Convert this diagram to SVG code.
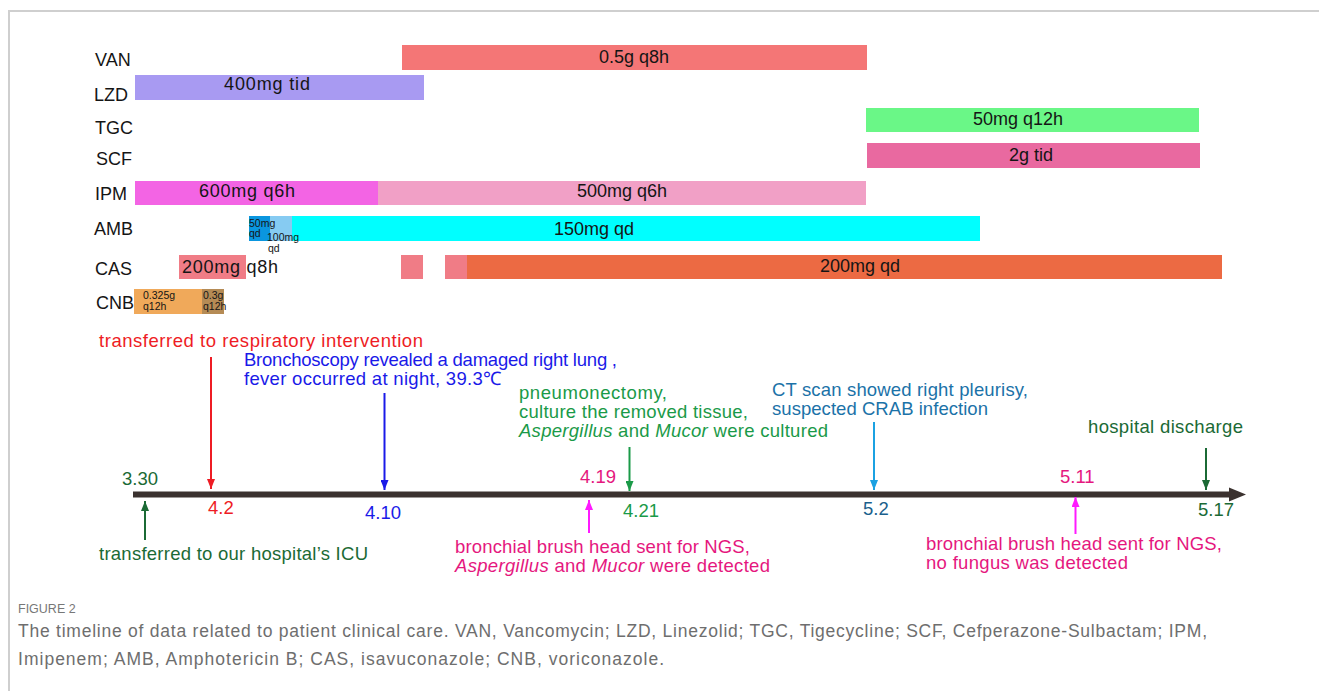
<svg xmlns="http://www.w3.org/2000/svg" width="1319" height="691" viewBox="0 0 1319 691">
<style>
text{font-family:"Liberation Sans",Arial,sans-serif}
.lbl{font-size:18px;fill:#151515}
.bt{font-size:18px;fill:#151515}
.sm{font-size:10.5px;fill:#151515}
.ev{font-size:18.5px}
.it{font-style:italic}
.cap{font-size:17.5px;fill:#6e6e6e}
</style>
<defs>
<marker id="mRed" viewBox="0 0 10 8" refX="10" refY="4" markerWidth="10" markerHeight="8" markerUnits="userSpaceOnUse" orient="auto"><path d="M0,0 L10,4 L0,8 z" fill="#ee1c24"/></marker>
<marker id="mBlue" viewBox="0 0 10 8" refX="10" refY="4" markerWidth="10" markerHeight="8" markerUnits="userSpaceOnUse" orient="auto"><path d="M0,0 L10,4 L0,8 z" fill="#1a1ae8"/></marker>
<marker id="mDkGreen" viewBox="0 0 10 8" refX="10" refY="4" markerWidth="10" markerHeight="8" markerUnits="userSpaceOnUse" orient="auto"><path d="M0,0 L10,4 L0,8 z" fill="#1b6a35"/></marker>
<marker id="mGreen" viewBox="0 0 10 8" refX="10" refY="4" markerWidth="10" markerHeight="8" markerUnits="userSpaceOnUse" orient="auto"><path d="M0,0 L10,4 L0,8 z" fill="#1a9a48"/></marker>
<marker id="mMag" viewBox="0 0 10 8" refX="10" refY="4" markerWidth="10" markerHeight="8" markerUnits="userSpaceOnUse" orient="auto"><path d="M0,0 L10,4 L0,8 z" fill="#ff1aff"/></marker>
<marker id="mSky" viewBox="0 0 10 8" refX="10" refY="4" markerWidth="10" markerHeight="8" markerUnits="userSpaceOnUse" orient="auto"><path d="M0,0 L10,4 L0,8 z" fill="#1ba1e2"/></marker>
</defs>
<rect width="1319" height="691" fill="#ffffff"/>
<g id="frame" fill="none" stroke="#cfcfcf" stroke-width="2">
<path d="M9,691 V11 H1319"/>
</g>

<g id="row-VAN">
<text class="lbl" x="95" y="66">VAN</text>
<rect x="402" y="45" width="465" height="25" fill="#f47676"/>
<text class="bt" x="634" y="63" text-anchor="middle">0.5g q8h</text>
</g>
<g id="row-LZD">
<text class="lbl" x="94" y="101">LZD</text>
<rect x="135" y="75" width="289" height="25" fill="#a89af2"/>
<text class="bt" x="224" y="90" textLength="86">400mg tid</text>
</g>
<g id="row-TGC">
<text class="lbl" x="95" y="134">TGC</text>
<rect x="866" y="108" width="333" height="24" fill="#6af787"/>
<text class="bt" x="1018" y="125" text-anchor="middle">50mg q12h</text>
</g>
<g id="row-SCF">
<text class="lbl" x="96" y="165">SCF</text>
<rect x="867" y="143" width="333" height="25" fill="#e969a0"/>
<text class="bt" x="1031" y="161" text-anchor="middle">2g tid</text>
</g>
<g id="row-IPM">
<text class="lbl" x="95" y="200">IPM</text>
<rect x="135" y="181" width="243" height="24" fill="#f364e4"/>
<rect x="378" y="181" width="488" height="24" fill="#f1a0c6"/>
<text class="bt" x="199" y="197" textLength="96">600mg q6h</text>
<text class="bt" x="622" y="197" text-anchor="middle">500mg q6h</text>
</g>
<g id="row-AMB">
<text class="lbl" x="94" y="235">AMB</text>
<rect x="249" y="216" width="21" height="25" fill="#0a96df"/>
<rect x="270" y="216" width="22" height="25" fill="#86cbf2"/>
<rect x="292" y="216" width="688" height="25" fill="#00ffff"/>
<text class="sm" x="249" y="227">50mg</text>
<text class="sm" x="249" y="237">qd</text>
<text class="sm" x="267" y="241">100mg</text>
<text class="sm" x="268" y="252">qd</text>
<text class="bt" x="594" y="235" text-anchor="middle">150mg qd</text>
</g>
<g id="row-CAS">
<text class="lbl" x="95" y="275" fill="#333">CAS</text>
<rect x="179" y="255" width="67" height="24" fill="#f07c86"/>
<rect x="401" y="255" width="22" height="24" fill="#f07c86"/>
<rect x="445" y="255" width="22" height="24" fill="#f07c86"/>
<rect x="467" y="255" width="755" height="24" fill="#ec6a43"/>
<text class="bt" x="182" y="273" textLength="96">200mg q8h</text>
<text class="bt" x="820" y="272" textLength="80">200mg qd</text>
</g>
<g id="row-CNB">
<text class="lbl" x="96" y="309">CNB</text>
<rect x="134" y="289" width="68" height="25" fill="#f0a95a"/>
<rect x="202" y="289" width="22" height="25" fill="#b58b55"/>
<text class="sm" x="143" y="299">0.325g</text>
<text class="sm" x="143" y="310">q12h</text>
<text class="sm" x="203" y="299">0.3g</text>
<text class="sm" x="203" y="310">q12h</text>
</g>

<g id="timeline-axis">
<line x1="133" y1="494.5" x2="1232" y2="494.5" stroke="#3b322f" stroke-width="6"/>
<polygon points="1229,487.5 1246,494.5 1229,501.5" fill="#3b322f"/>
</g>

<g id="connectors" fill="none" stroke-width="2">
<line x1="211" y1="357" x2="211" y2="489" stroke="#ee1c24" marker-end="url(#mRed)"/>
<line x1="384.5" y1="393" x2="384.5" y2="490" stroke="#1a1ae8" marker-end="url(#mBlue)"/>
<line x1="145" y1="540" x2="145" y2="501" stroke="#1b6a35" marker-end="url(#mDkGreen)"/>
<line x1="629.5" y1="447" x2="629.5" y2="491" stroke="#1a9a48" marker-end="url(#mGreen)"/>
<line x1="589" y1="533" x2="589" y2="500" stroke="#ff1aff" marker-end="url(#mMag)"/>
<line x1="874" y1="422" x2="874" y2="490" stroke="#1ba1e2" marker-end="url(#mSky)"/>
<line x1="1075.5" y1="534" x2="1075.5" y2="497" stroke="#ff1aff" marker-end="url(#mMag)"/>
<line x1="1206" y1="448" x2="1206" y2="490" stroke="#1b6a35" marker-end="url(#mDkGreen)"/>
</g>

<g id="event-0330">
<text class="ev" x="122" y="485" fill="#1b6a35">3.30</text>
<text class="ev" x="99" y="560" fill="#1b6a35" textLength="269">transferred to our hospital’s ICU</text>
</g>
<g id="event-0402">
<text class="ev" x="99" y="347" fill="#ee1c24" textLength="324">transferred to respiratory intervention</text>
<text class="ev" x="208" y="514" fill="#ee1c24">4.2</text>
</g>
<g id="event-0410">
<text class="ev" x="244" y="366" fill="#1a1ae8" textLength="373">Bronchoscopy revealed a damaged right lung ,</text>
<text class="ev" x="244" y="385" fill="#1a1ae8" textLength="257">fever occurred at night, 39.3℃</text>
<text class="ev" x="365" y="519" fill="#1a1ae8">4.10</text>
</g>
<g id="event-0419">
<text class="ev" x="580" y="483" fill="#e5177e">4.19</text>
<text class="ev" x="455" y="553" fill="#e5177e" textLength="295">bronchial brush head sent for NGS,</text>
<text class="ev" x="455" y="572" fill="#e5177e" textLength="315"><tspan class="it">Aspergillus</tspan> and <tspan class="it">Mucor</tspan> were detected</text>
</g>
<g id="event-0421">
<text class="ev" x="519" y="399" fill="#1a9a48" textLength="148">pneumonectomy,</text>
<text class="ev" x="519" y="418" fill="#1a9a48" textLength="229">culture the removed tissue,</text>
<text class="ev" x="519" y="437" fill="#1a9a48" textLength="309"><tspan class="it">Aspergillus</tspan> and <tspan class="it">Mucor</tspan> were cultured</text>
<text class="ev" x="623" y="517" fill="#1a9a48">4.21</text>
</g>
<g id="event-0502">
<text class="ev" x="772" y="396" fill="#1b72a8" textLength="256">CT scan showed right pleurisy,</text>
<text class="ev" x="772" y="415" fill="#1b72a8" textLength="216">suspected CRAB infection</text>
<text class="ev" x="863" y="515" fill="#1b5f8c">5.2</text>
</g>
<g id="event-0511">
<text class="ev" x="1060" y="483" fill="#e5177e">5.11</text>
<text class="ev" x="926" y="550" fill="#e5177e" textLength="296">bronchial brush head sent for NGS,</text>
<text class="ev" x="926" y="569" fill="#e5177e" textLength="202">no fungus was detected</text>
</g>
<g id="event-0517">
<text class="ev" x="1088" y="433" fill="#1b6a35" textLength="155">hospital discharge</text>
<text class="ev" x="1198" y="516" fill="#1b6a35">5.17</text>
</g>

<g id="caption">
<text x="18" y="613" font-size="12.5" fill="#777">FIGURE 2</text>
<text class="cap" x="18" y="637" textLength="1189">The timeline of data related to patient clinical care. VAN, Vancomycin; LZD, Linezolid; TGC, Tigecycline; SCF, Cefperazone-Sulbactam; IPM,</text>
<text class="cap" x="18" y="665" textLength="646">Imipenem; AMB, Amphotericin B; CAS, isavuconazole; CNB, voriconazole.</text>
</g>
</svg>
